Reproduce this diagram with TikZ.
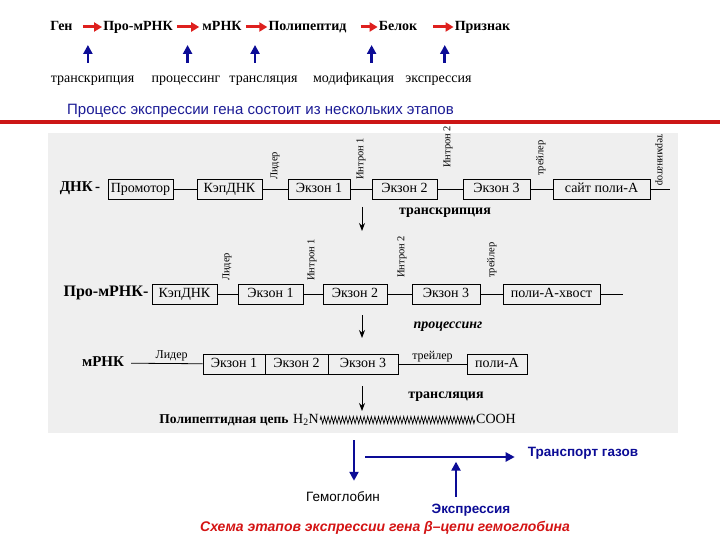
\documentclass[tikz,border=0pt]{standalone}
\usepackage{fontspec}
\setmainfont{Liberation Serif}
\setsansfont{Liberation Sans}
\usetikzlibrary{arrows.meta,calc,decorations.pathmorphing}
\definecolor{arrred}{RGB}{222,32,30}
\definecolor{arrblue}{RGB}{12,12,150}
\definecolor{titleblue}{RGB}{28,28,150}
\definecolor{rulered}{RGB}{204,22,22}
\definecolor{capred}{RGB}{212,20,20}
\definecolor{scanbg}{RGB}{239,239,239}
\newcommand{\fsz}[1]{\fontsize{#1}{#1}\selectfont}

\begin{document}
\begin{tikzpicture}[x=1pt,y=-1pt,>=Stealth,
    stage/.style={font=\bfseries\fsz{14}, inner sep=1pt, text height=9.5pt, text depth=3pt},
    proc/.style={font=\fsz{14}, inner sep=1pt, text height=9.5pt, text depth=3pt},
    redarr/.style={draw=arrred, line width=3pt, -{Triangle[length=8pt,width=9pt]}},
    bluearr/.style={draw=arrblue, line width=2.8pt, -{Triangle[length=9pt,width=9pt]}},
    rowlab/.style={font=\bfseries\fsz{15}, inner sep=1pt, text height=10pt, text depth=3pt},
    steplab/.style={font=\bfseries\fsz{14}, inner sep=1pt},
    gene/.style={draw, line width=0.7pt, minimum height=20pt, inner sep=1pt,
      font=\fsz{14}, text height=9.5pt, text depth=3pt},
    strand/.style={draw, line width=0.8pt},
    vlab/.style={font=\fsz{10.5}, rotate=90, anchor=west, inner sep=1pt},
    smalllab/.style={font=\fsz{12}, inner sep=2pt},
    downarr/.style={draw, line width=0.8pt, -{Stealth[length=8pt,width=6pt]}},
    zig/.style={draw, line width=0.7pt, decorate,
      decoration={zigzag, amplitude=3.5pt, segment length=3.6pt}},
    sanslab/.style={font=\sffamily\fsz{13.5}, inner sep=1pt},
    bluelab/.style={font=\sffamily\bfseries\fsz{13.5}, text=arrblue, inner sep=1pt}]
  \useasboundingbox (0,0) rectangle (720,540);
  \fill[white] (0,0) rectangle (720,540);

  % stages of expression
  \node[stage] (gen) at (61.5,27) {Ген};
  \node[stage] (prorna) at (138,27) {Про-мРНК};
  \node[stage] (mrna) at (222,27) {мРНК};
  \node[stage] (pept) at (307.5,27) {Полипептид};
  \node[stage] (prot) at (398,27) {Белок};
  \node[stage] (trait) at (482.5,27) {Признак};
  \draw[redarr, shorten <=9pt] (gen) -- coordinate[pos=.5] (m1) (prorna);
  \draw[redarr, shorten <=3pt, shorten >=2pt] (prorna) -- coordinate[pos=.5] (m2) (mrna);
  \draw[redarr, shorten <=3pt] (mrna) -- coordinate[pos=.5] (m3) (pept);
  \draw[redarr, shorten <=13pt] (pept) -- coordinate[pos=.8] (m4) (prot);
  \draw[redarr, shorten <=15pt] (prot) -- coordinate[pos=.75] (m5) (trait);
  \node[proc] (l1) at (92.5,79) {транскрипция};
  \node[proc] (l2) at (186,79) {процессинг};
  \node[proc] (l3) at (263.5,79) {трансляция};
  \node[proc] (l4) at (353.5,79) {модификация};
  \node[proc] (l5) at (438.5,79) {экспрессия};
  \foreach \m in {m1,m2,m3,m4,m5}
    \draw[bluearr] ([yshift=-36pt]\m) -- ([yshift=-18pt]\m);

  \node[font=\sffamily\fsz{15}, text=titleblue, anchor=west, inner sep=0pt] (title) at (67,111)
    {Процесс экспрессии гена состоит из нескольких этапов};
  \draw[rulered, line width=4pt] (0,122) -- (720,122);

  % scheme of the gene
  \fill[scanbg] (48,133) rectangle (678,433);

  \node[rowlab] (dna) at (80,188) {ДНК\,-};
  \node[gene, minimum width=65pt] (prom) at (140.5,189) {Промотор};
  \node[gene, minimum width=65pt] (kap1) at (229.5,189) {КэпДНК};
  \node[gene, minimum width=62pt] (ex11) at (319,189) {Экзон 1};
  \node[gene, minimum width=65pt] (ex12) at (404.5,189) {Экзон 2};
  \node[gene, minimum width=67pt] (ex13) at (496.5,189) {Экзон 3};
  \node[gene, minimum width=97pt] (site) at (601.5,189) {сайт поли-А};
  \coordinate (end1) at (670,189);
  \draw[strand] (prom) -- (kap1) -- (ex11) -- (ex12) -- (ex13) -- (site) -- (end1);
  \node[vlab] (lid1) at (275,181) {Лидер};
  \node[vlab] (int11) at (361,181) {Интрон 1};
  \node[vlab] (int12) at (448,169) {Интрон 2};
  \node[vlab] (trl1) at (541,177) {трейлер};
  \node[font=\fsz{10.5}, rotate=-90, anchor=west, inner sep=1pt] (term) at (659,133) {терминатор};
  \coordinate (tr1) at (362,207);
  \draw[downarr] (tr1) -- ++(0,24);
  \node[steplab] (transcr) at (445,213) {транскрипция};

  \node[rowlab, font=\bfseries\fsz{16}] (prorna2) at (106,293) {Про-мРНК-};
  \node[gene, minimum width=65pt] (kap2) at (184.5,294) {КэпДНК};
  \node[gene, minimum width=65pt] (ex21) at (270.5,294) {Экзон 1};
  \node[gene, minimum width=64pt] (ex22) at (355,294) {Экзон 2};
  \node[gene, minimum width=68pt] (ex23) at (446,294) {Экзон 3};
  \node[gene, minimum width=97pt] (tail2) at (551.5,294) {поли-А-хвост};
  \coordinate (end2) at (623,294);
  \draw[strand] (kap2) -- (ex21) -- (ex22) -- (ex23) -- (tail2) -- (end2);
  \node[vlab] (lid2) at (227,282) {Лидер};
  \node[vlab] (int21) at (312,282) {Интрон 1};
  \node[vlab] (int22) at (402,279) {Интрон 2};
  \node[vlab] (trl2) at (492,279) {трейлер};
  \coordinate (tr2) at (362,315);
  \draw[downarr] (tr2) -- ++(0,23);
  \node[steplab, font=\bfseries\itshape\fsz{14}] (procs) at (448,327) {процессинг};

  \node[rowlab] (mrna3) at (103,363) {мРНК};
  \node[gene, minimum width=62pt] (ex31) at (234,364) {Экзон 1};
  \node[gene, minimum width=63pt] (ex32) at (296.5,364) {Экзон 2};
  \node[gene, minimum width=70pt] (ex33) at (363,364) {Экзон 3};
  \node[gene, minimum width=60pt] (polya3) at (497,364) {поли-А};
  \draw[strand, shorten <=6pt] (mrna3) -- node[pos=.6, above, smalllab] (lid3) {Лидер} (ex31);
  \draw[strand] (ex33) -- node[above, smalllab] (trl3) {трейлер} (polya3);
  \coordinate (tr3) at (362,386);
  \draw[downarr] (tr3) -- ++(0,25);
  \node[steplab] (transl) at (446,397) {трансляция};

  \node[steplab, font=\bfseries\fsz{13.5}] (chain) at (224,420) {Полипептидная цепь};
  \node[proc, font=\fsz{14}] (h2n) at (306,420) {H\textsubscript{2}N};
  \node[proc, font=\fsz{14}] (cooh) at (496,420) {COOH};
  \draw[zig] (h2n) -- (cooh);

  % hemoglobin
  \coordinate (hemtop) at (354,440);
  \node[sanslab] (hem) at (343,497) {Гемоглобин};
  \draw[bluearr, shorten >=10pt] (hemtop) -- (hem.north -| hemtop);
  \coordinate (func) at (365,457);
  \node[bluelab] (gas) at (583,453) {Транспорт газов};
  \draw[bluearr, shorten >=12pt] (func) -- (gas.west |- func);
  \node[bluelab] (expr) at (471,510) {Экспрессия};
  \draw[bluearr] ($(expr.north)+(-15,-6)$) -- ($(expr.north)+(-15,-41)$);
  \node[font=\sffamily\bfseries\itshape\fsz{14}, text=capred, inner sep=1pt] (caption) at (385,528)
    {Схема этапов экспрессии гена β–цепи гемоглобина};
\end{tikzpicture}
\end{document}
